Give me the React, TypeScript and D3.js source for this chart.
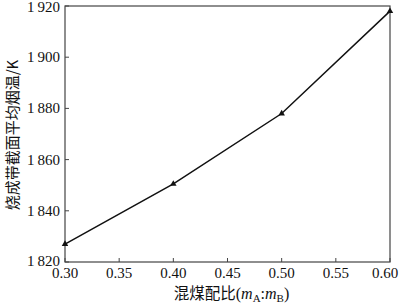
import React from "react";
import * as d3 from "d3";

const ratios = [0.3, 0.4, 0.5, 0.6];
const temps = [1827, 1850.5, 1878, 1918];
const xTicks = [0.3, 0.35, 0.4, 0.45, 0.5, 0.55, 0.6];
const yTicks = [1820, 1840, 1860, 1880, 1900, 1920];

const W = 400;
const H = 304;
const M = { left: 65, right: 10, top: 6, bottom: 42 };

export default function App() {
  const x = d3.scaleLinear().domain([0.3, 0.6]).range([M.left, W - M.right]);
  const y = d3.scaleLinear().domain([1820, 1920]).range([H - M.bottom, M.top]);
  const line = d3
    .line<number>()
    .x((_, i) => x(ratios[i]))
    .y((d) => y(d));
  const tri = d3.symbol().type(d3.symbolTriangle).size(18)() as string;
  const serif = "'Liberation Serif', 'Times New Roman', serif";
  const cjk = "'Noto Sans CJK SC', sans-serif";
  const fmtY = (v: number) => {
    const s = String(v);
    return s.slice(0, 1) + "\u2009" + s.slice(1);
  };
  const x0 = M.left;
  const x1 = W - M.right;
  const y0 = H - M.bottom;
  const y1 = M.top;
  return (
    <svg
      width={W}
      height={H}
      style={{ position: "absolute", left: 0, top: 0, background: "#fff" }}
    >
      <rect x={x0} y={y1} width={x1 - x0} height={y0 - y1} fill="none" stroke="#444" strokeWidth={1.2} />
      {xTicks.map((t, i) => (
        <g key={"x" + i}>
          <line x1={x(t)} x2={x(t)} y1={y0} y2={y0 - 4} stroke="#444" strokeWidth={1} />
          <text
            x={i === xTicks.length - 1 ? x(t) - 5 : x(t)}
            y={y0 + 16}
            textAnchor="middle"
            fontFamily={serif}
            fontSize={15}
            fill="#111"
          >
            {t.toFixed(2)}
          </text>
        </g>
      ))}
      {yTicks.map((t, i) => (
        <g key={"y" + i}>
          <line x1={x0} x2={x0 + 4} y1={y(t)} y2={y(t)} stroke="#444" strokeWidth={1} />
          <text
            x={x0 - 5}
            y={i === yTicks.length - 1 ? y(t) + 6 : i === 0 ? y(t) + 4 : y(t) + 5}
            textAnchor="end"
            fontFamily={serif}
            fontSize={15}
            fill="#111"
          >
            {fmtY(t)}
          </text>
        </g>
      ))}
      <path d={line(temps) as string} fill="none" stroke="#111" strokeWidth={1.5} />
      {temps.map((v, i) => (
        <path key={"m" + i} d={tri} transform={`translate(${x(ratios[i])},${y(v)})`} fill="#111" />
      ))}
      <text
        transform={`translate(18,${(y0 + y1) / 2 + 1}) rotate(-90)`}
        textAnchor="middle"
        fontFamily={cjk}
        fontSize={15}
        fill="#111"
      >
        烧成带截面平均烟温/K
      </text>
      <text x={(x0 + x1) / 2 + 4} y={299} textAnchor="middle" fontSize={15.5} fill="#111">
        <tspan fontFamily={cjk}>混煤配比</tspan>
        <tspan fontFamily={serif} fontSize={16}>(</tspan>
        <tspan fontFamily={serif} fontSize={16} fontStyle="italic">m</tspan>
        <tspan fontFamily={serif} fontSize={11} dy={3}>A</tspan>
        <tspan fontFamily={serif} fontSize={16} dy={-3}>:</tspan>
        <tspan fontFamily={serif} fontSize={16} fontStyle="italic">m</tspan>
        <tspan fontFamily={serif} fontSize={11} dy={3}>B</tspan>
        <tspan fontFamily={serif} fontSize={16} dy={-3}>)</tspan>
      </text>
    </svg>
  );
}
